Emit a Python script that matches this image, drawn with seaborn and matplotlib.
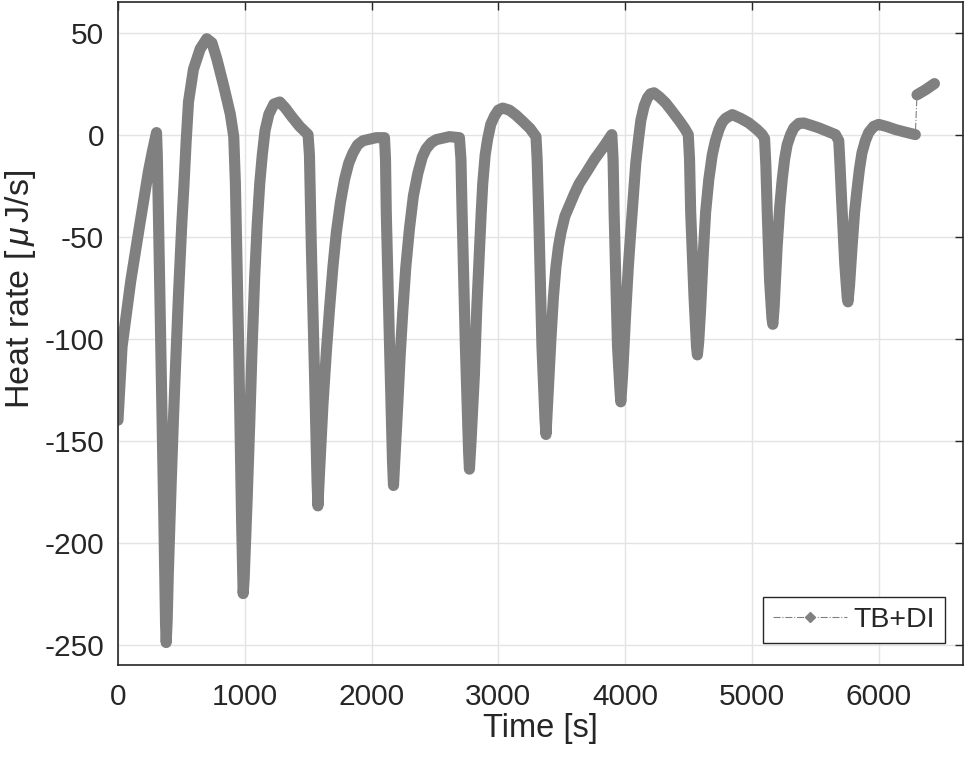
import matplotlib
matplotlib.use("Agg")
import matplotlib.pyplot as plt
import seaborn as sns
import pandas as pd
from matplotlib.lines import Line2D

# values
time_s = [0, 32, 100, 172, 240, 272, 304, 310, 325, 345, 362, 375, 380, 388, 397,
          420, 437, 456, 476, 503, 521, 537, 556, 595, 648, 700, 741, 780, 833,
          886, 913, 926, 952, 975, 987, 995, 1018, 1040, 1058, 1078, 1098, 1118,
          1138, 1160, 1190, 1230, 1276, 1320, 1368, 1433, 1499, 1510, 1525, 1551,
          1570, 1577, 1590, 1617, 1645, 1669, 1695, 1722, 1755, 1787, 1820, 1853,
          1890, 1932, 2037, 2102, 2110, 2116, 2142, 2165, 2173, 2185, 2207, 2226,
          2246, 2270, 2299, 2330, 2365, 2400, 2430, 2470, 2509, 2614, 2693, 2705,
          2714, 2740, 2765, 2772, 2785, 2811, 2830, 2850, 2865, 2877, 2896, 2916,
          2940, 2969, 3000, 3034, 3087, 3140, 3192, 3250, 3297, 3306, 3318, 3344,
          3368, 3376, 3390, 3415, 3434, 3454, 3474, 3494, 3525, 3559, 3600, 3638,
          3700, 3760, 3830, 3895, 3905, 3913, 3940, 3960, 3966, 3980, 4005, 4025,
          4045, 4065, 4084, 4104, 4124, 4150, 4176, 4200, 4228, 4270, 4320, 4370,
          4425, 4470, 4498, 4508, 4517, 4543, 4563, 4570, 4580, 4596, 4615, 4635,
          4660, 4687, 4712, 4740, 4765, 4793, 4845, 4910, 4976, 5040, 5081, 5100,
          5110, 5121, 5139, 5158, 5165, 5175, 5199, 5220, 5239, 5258, 5278, 5305,
          5331, 5370, 5409, 5470, 5528, 5600, 5659, 5685, 5695, 5706, 5732, 5752,
          5758, 5770, 5790, 5810, 5829, 5848, 5868, 5895, 5921, 5960, 6000, 6060,
          6131, 6210, 6289, 6302, 6370, 6440]
heat_rate = [-140, -104, -72, -44, -18, -8, 1, -10, -60, -130, -190, -240, -249, -238, -215,
             -170, -140, -110, -80, -44, -24, -4, 16, 32, 42, 47, 45, 37, 24,
             10, -1, -24, -104, -190, -225, -218, -180, -140, -104, -70, -44, -24,
             -10, 2, 10, 15, 16, 13, 9, 4, 0, -10, -55, -120,
             -170, -182, -165, -132, -105, -85, -65, -48, -33, -22, -14, -9,
             -5, -3, -1.5, -1.5, -12, -38, -104, -160, -172, -158, -132, -108,
             -87, -65, -46, -30, -19, -11, -7, -4, -2.5, -1, -1.5, -12,
             -38, -104, -155, -164, -150, -118, -85, -58, -38, -24, -10, -2,
             5, 9, 12, 13, 12, 9.5, 6.5, 3, -1, -12, -38, -104,
             -140, -147, -130, -100, -80, -65, -55, -48, -40, -35, -29, -24,
             -18, -12, -6, 0, -12, -38, -104, -126, -131, -118, -87, -65,
             -47, -30, -14, -3, 7, 14, 18, 20, 20.5, 18.5, 15.5, 11.5,
             7, 3, 0, -12, -38, -79, -104, -108, -102, -85, -60, -38,
             -22, -10, -3, 2.5, 6, 8, 9.8, 8, 5.7, 2.5, 0, -2,
             -15, -38, -71, -90, -93, -85, -55, -35, -22, -12, -5, 0,
             3.3, 5.5, 5.7, 4.5, 3.3, 1.5, 0, -3, -15, -30, -63, -80,
             -82, -74, -55, -38, -27, -17, -9, -3, 1, 4, 5, 4,
             2.5, 1.2, 0, 19.5, 22, 25]
jump_time = 6295  # signal jumps here, only the thin connector crosses it

x_ticks = [0, 1000, 2000, 3000, 4000, 5000, 6000]
y_ticks = [-250, -200, -150, -100, -50, 0, 50]

df = pd.DataFrame({"time": time_s, "rate": heat_rate})
before = df[df["time"] < jump_time]
after = df[df["time"] > jump_time]

sns.set_style("white")
plt.rcParams["font.family"] = ["Liberation Sans", "DejaVu Sans"]
plt.rcParams["mathtext.fontset"] = "custom"
plt.rcParams["mathtext.rm"] = "Liberation Sans"
plt.rcParams["mathtext.it"] = "Liberation Sans:italic"
plt.rcParams["axes.unicode_minus"] = False

gray = "#808080"
dark = "#262626"

fig = plt.figure(figsize=(9.68, 7.63), dpi=100)
ax = fig.add_axes([118 / 968, 1 - 665 / 763, 845 / 968, 663 / 763])

sns.lineplot(data=df, x="time", y="rate", ax=ax, color=gray, lw=0.8,
             linestyle="-.", estimator=None, sort=False)
for seg in (before, after):
    sns.lineplot(data=seg, x="time", y="rate", ax=ax, color=gray, lw=8,
                 estimator=None, sort=False,
                 solid_capstyle="round", solid_joinstyle="round")

ax.set_xlim(0, 6665)
ax.set_ylim(-260, 65)
ax.set_xticks(x_ticks)
ax.set_yticks(y_ticks)
ax.grid(True, color="#e3e3e3", lw=1)
ax.set_axisbelow(True)
for sp in ax.spines.values():
    sp.set_color(dark)
    sp.set_linewidth(1.2)
ax.tick_params(direction="in", length=5.5, width=1, top=True, right=True,
               labelsize=21.5, colors=dark)
ax.tick_params(axis="x", pad=13)
ax.tick_params(axis="y", pad=10)

ax.set_xlabel("Time [s]", fontsize=23.5, color=dark)
ax.set_ylabel(r"Heat rate [$\,\mu\,$J/s]", fontsize=24.5, color=dark)
ax.yaxis.set_label_coords(-0.095, 0.566)
ax.xaxis.set_label_coords(0.5, -0.072)

handle = Line2D([], [], color=gray, lw=0.8, ls="-.", marker="D", ms=5)
ax.legend(handles=[handle], labels=["TB+DI"], loc="lower right",
          bbox_to_anchor=(0.979, 0.033), borderaxespad=0, fontsize=20.5,
          frameon=True, fancybox=False, edgecolor=dark, framealpha=1,
          handlelength=2.6, handletextpad=0.25, borderpad=0.35)

fig.savefig("out.png", dpi=100)
